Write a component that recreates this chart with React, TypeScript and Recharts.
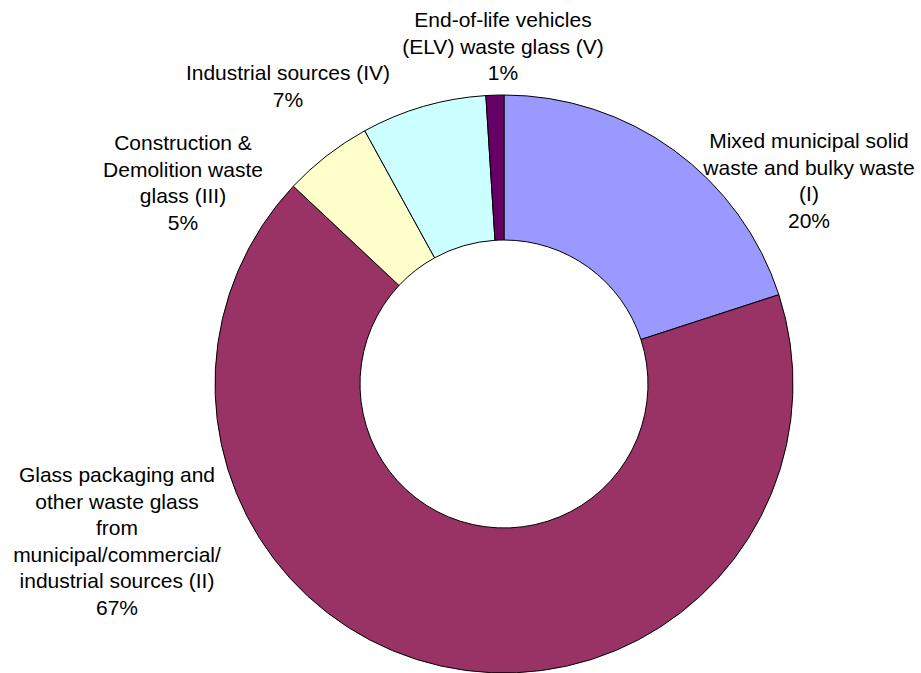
import { Cell, Pie, PieChart } from 'recharts'

const categories = [
  'Mixed municipal solid|waste and bulky waste|(I)',
  'Glass packaging and|other waste glass|from|municipal/commercial/|industrial sources (II)',
  'Construction &|Demolition waste|glass (III)',
  'Industrial sources (IV)',
  'End-of-life vehicles|(ELV) waste glass (V)',
]
const shares = [20, 67, 5, 7, 1]
const colors = ['#9999FF', '#993366', '#FFFFCC', '#CCFFFF', '#660066']

// label block anchor (centre x, first baseline) relative to the pie centre
const labelOffsets = [
  [305, -236],
  [-387, 98],
  [-321, -234],
  [-216, -304],
  [-1, -357],
]

const data = categories.map((name, i) => ({ name, value: shares[i] }))

const LINE_H = 26.5

function renderLabel(props: any) {
  const { cx, cy, index } = props
  const [dx, dy] = labelOffsets[index]
  const lines = [...categories[index].split('|'), `${shares[index]}%`]
  const x = cx + dx
  const y = cy + dy
  return (
    <text
      key={`lbl-${index}`}
      x={x}
      y={y}
      textAnchor="middle"
      fontSize={21}
      fontFamily="'Liberation Sans', Arial, sans-serif"
      fill="#000"
    >
      {lines.map((l, j) => (
        <tspan key={j} x={x} y={y + j * LINE_H}>
          {l}
        </tspan>
      ))}
    </text>
  )
}

export default function App() {
  return (
    <div style={{ position: 'fixed', left: 0, top: 0, width: 921, height: 673, background: '#fff' }}>
      <PieChart width={921} height={673} margin={{ top: 0, right: 0, bottom: 0, left: 0 }}>
        <Pie
          data={data}
          dataKey="value"
          cx={504}
          cy={384}
          innerRadius={144}
          outerRadius={289}
          startAngle={90}
          endAngle={-270}
          stroke="#000"
          strokeWidth={1}
          label={renderLabel}
          labelLine={false}
          isAnimationActive={false}
        >
          {data.map((d, i) => (
            <Cell key={d.name} fill={colors[i]} stroke="#000" strokeWidth={1} />
          ))}
        </Pie>
      </PieChart>
    </div>
  )
}
